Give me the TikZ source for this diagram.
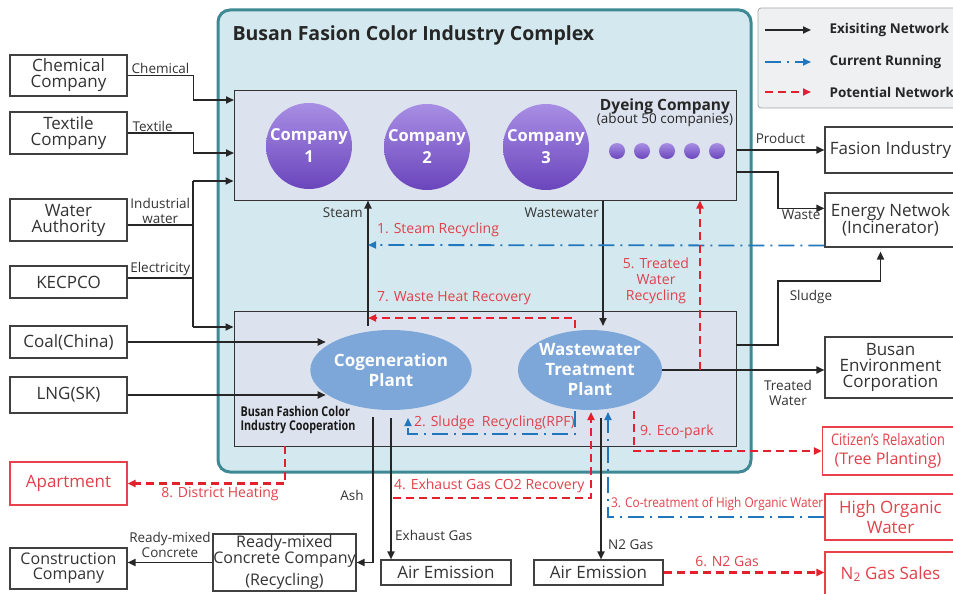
\documentclass[tikz,border=0pt]{standalone}
\usepackage{fontspec}
\usepackage{graphicx}
\setmainfont{Open Sans}
\usepackage{tikz}
\usetikzlibrary{arrows.meta,shapes.geometric}

\definecolor{cplxfill}{HTML}{D4E9EF}
\definecolor{cplxline}{HTML}{3F8994}
\definecolor{innerfill}{HTML}{DDE3EE}
\definecolor{plantfill}{HTML}{7DA6D9}
\definecolor{potred}{HTML}{E4202C}
\definecolor{lblred}{HTML}{E2404A}
\definecolor{curblue}{HTML}{2177BE}
\definecolor{legfill}{HTML}{EEF0F2}
\definecolor{compdark}{HTML}{6A45BC}
\definecolor{complight}{HTML}{A88EE4}

\newcommand{\fsz}[2]{\fontsize{#1}{#2}\selectfont}

\tikzset{
  arr/.style={-{Triangle[length=8pt,width=7pt]}},
  link/.style={line width=1.7pt, black!85},
  pot/.style={line width=2.2pt, potred, dash pattern=on 8pt off 5pt},
  cur/.style={line width=1.8pt, curblue, dash pattern=on 16pt off 6pt on 2pt off 6pt},
  box/.style={draw=black!75, line width=1.1pt, fill=white, minimum width=117pt, inner sep=0pt, align=center, text=black!80, font=\fsz{17}{16}},
  rbox/.style={box, draw=potred!85, text=lblred},
  rwide/.style={minimum width=131pt},
  inner/.style={draw=black!80, line width=1pt, fill=innerfill, inner sep=0pt},
  comp/.style={circle, minimum size=86pt, inner sep=0pt, top color=complight, bottom color=compdark, text=white, align=center, font=\bfseries\fsz{16.5}{16}},
  dot/.style={circle, minimum size=16pt, inner sep=0pt, top color=complight, bottom color=compdark},
  plant/.style={ellipse, minimum width=134pt, minimum height=80pt, inner sep=0pt, fill=plantfill, text=white, align=center, font=\bfseries\fsz{17}{20}},
  lbl/.style={font=\fsz{13.5}{15}, text=black!80, inner sep=1pt, align=center},
  rlbl/.style={lbl, font=\fsz{14}{16}, text=lblred},
  legtxt/.style={anchor=west, font=\bfseries\fsz{13.5}{14}, text=black!85}
}

\begin{document}
\begin{tikzpicture}[x=1pt,y=-1pt]
\useasboundingbox (0,0) rectangle (953,594);

\node[draw=cplxline, line width=3pt, fill=cplxfill, rounded corners=12pt, minimum width=533pt, minimum height=462pt, inner sep=0pt] (cplx) at (484.5,241) {};
\node[anchor=west, font=\bfseries\fsz{19.5}{20}, text=black!85] (title) at (229,35) {Busan Fasion Color Industry Complex};
\node[inner, minimum width=502pt, minimum height=110pt] (dye) at (485,145) {};
\node[inner, minimum width=502pt, minimum height=135pt] (coop) at (485,378.5) {};

% legend
\node[draw=black!35, fill=legfill, rounded corners=3pt, line width=0.8pt, minimum width=202pt, minimum height=100pt] (leg) at (859,58) {};
\coordinate (lg1) at (765,30);
\coordinate (lg2) at (765,62);
\coordinate (lg3) at (765,92);
\draw[link,arr] (lg1) -- ++(46,0);
\draw[cur,arr] (lg2) -- ++(46,0);
\draw[pot,arr] (lg3) -- ++(46,0);
\node[legtxt] (lt1) at (826,30) {Exisiting Network};
\node[legtxt] (lt2) at (826,62) {Current Running};
\node[legtxt] (lt3) at (826,92) {Potential Network};

% dyeing companies
\node[comp] (c1) at (309,146) {Company\\[6pt]1};
\node[comp] (c2) at (427,147) {Company\\[6pt]2};
\node[comp] (c3) at (546,147) {Company\\[6pt]3};
\foreach \i/\x in {1/617,2/642,3/667,4/692,5/717}
  \node[dot] (d\i) at (\x,151) {};
\node[align=center, text=black!85] (dyelbl) at (665,113) {{\bfseries\fsz{15.5}{16}Dyeing Company}\\[-2pt]{\fsz{13.5}{13}(about 50 companies)}};

% plants
\node[plant] (cogen) at (391,370) {Cogeneration\\Plant};
\node[plant] (wwtp) at (590,370) {Wastewater\\Treatment\\Plant};
\node[anchor=west, font=\bfseries\fsz{13.5}{14}, align=left, text=black!90] (cooplbl) at (237,420) {\scalebox{0.8}[1]{Busan Fashion Color}\\\scalebox{0.8}[1]{Industry Cooperation}};

% outside boxes
\node[box, minimum height=41pt] (chem) at (68.5,75.5) {Chemical\\Company};
\node[box, minimum height=42pt] (textile) at (68.5,133) {Textile\\Company};
\node[box, minimum height=42pt] (water) at (68.5,220) {Water\\Authority};
\node[box, minimum height=32pt] (kecpco) at (68.5,282) {KECPCO};
\node[box, minimum height=32pt] (coal) at (68.5,342) {Coal(China)};
\node[box, minimum height=36pt] (lng) at (68.5,395) {LNG(SK)};
\node[rbox, minimum height=43pt] (apart) at (68.5,483.5) {Apartment};
\node[box, minimum height=41pt, font=\fsz{16}{15}] (constr) at (68.5,568.5) {Construction\\Company};

\node[box, rwide, minimum height=46pt] (fashion) at (890.5,150) {Fasion Industry};
\node[box, rwide, minimum height=54pt] (energy) at (890.5,220) {Energy Netwok\\(Incinerator)};
\node[box, rwide, minimum height=61pt] (busenv) at (890.5,367.5) {Busan\\Environment\\Corporation};
\node[rbox, rwide, minimum height=48pt, font=\fsz{16}{19}] (citizen) at (888,451) {\scalebox{0.8}[1]{Citizen's Relaxation}\\(Tree Planting)};
\node[rbox, rwide, minimum height=46pt, font=\fsz{17}{20}] (highorg) at (890.5,517) {High Organic\\Water};
\node[rbox, rwide, minimum height=44pt] (n2sales) at (890.5,574) {N\textsubscript{2} Gas Sales};

\node[box, minimum width=143pt, minimum height=57pt, font=\fsz{16}{14}] (rmc) at (284.5,562.5) {Ready-mixed\\Concrete Company\\[5pt](Recycling)};
\node[box, minimum width=130pt, minimum height=25pt] (air1) at (446,572.5) {Air Emission};
\node[box, minimum width=129pt, minimum height=25pt] (air2) at (598.5,572.5) {Air Emission};

% inputs
\coordinate (bustop) at (193,181);
\coordinate (busbot) at (193,327);
\coordinate (inchem) at (234,100);
\coordinate (intex) at (234,153);
\draw[link,arr] (chem.east) -- node[lbl,above] (lchem) {Chemical} ++(66,0) |- (inchem);
\draw[link,arr] (textile.east) -- node[lbl,above,pos=0.38] (ltex) {Textile} ++(66,0) |- (intex);
\draw[link] ([yshift=-5pt]water.east) -- node[lbl,above] (lwat) {Industrial\\water} ([yshift=-5pt]water.east -| bustop);
\draw[link] ([yshift=4pt]kecpco.east) -- node[lbl,above] (lele) {Electricity} ([yshift=4pt]kecpco.east -| bustop);
\draw[link] (bustop) -- (busbot);
\draw[link,arr] (bustop) -- (bustop -| dye.west);
\draw[link,arr] (busbot) -- (busbot -| coop.west);
\draw[link,arr] (coal.east) -- (coal.east -| cogen.160);
\draw[link,arr] (lng.east) -- (lng.east -| cogen.200);

% outputs
\coordinate (wasteout) at (736,172);
\coordinate (sludout) at (736,345);
\draw[link,arr] (dye.east |- fashion.west) -- node[lbl,above=5pt] (lprod) {Product} (fashion.west);
\draw[link,arr] (wasteout) -- ++(42,0) |- node[lbl,below,pos=0.75] (lwaste) {Waste} (energy.170);
\draw[link,arr,shorten >=4pt] (sludout) -- ++(42,0) -- ++(0,-64) -| ([xshift=-10pt]energy.south);
\node[lbl] (lslud) at (811,297) {Sludge};
\draw[link,arr] (wwtp.east) -- (wwtp.east -| busenv.west);
\node[lbl] (ltw) at (788,393) {Treated\\Water};

% inside
\coordinate (stbot) at (368,326);
\coordinate (wwin) at (603,326);
\draw[link,arr] (stbot) -- (stbot |- dye.south);
\node[lbl,anchor=east] (lsteam) at (364,213) {Steam};
\draw[link,arr] (wwin |- dye.south) -- (wwin);
\node[lbl,anchor=east] (lww) at (600,213) {Wastewater};

\coordinate (stin1) at (368,245);
\draw[cur,arr] ([yshift=2pt]energy.south west) -- (stin1);
\node[rlbl,anchor=west] (l1) at (376,230) {1. Steam Recycling};

\coordinate (whout) at (575,328);
\coordinate (stin7) at (368,318);
\draw[pot,arr] (whout) |- (stin7);
\node[rlbl,anchor=west] (l7) at (376,298) {7. Waste Heat Recovery};

\coordinate (trw) at (700,370);
\draw[pot,arr] (trw) -- (trw |- dye.south);
\node[rlbl] (l5) at (656,281) {5. Treated\\Water\\Recycling};

\coordinate (slout) at (575,411);
\coordinate (slin) at (408,418);
\draw[cur,arr] (slout) -- ++(0,23) -| (slin);
\node[rlbl,anchor=west] (l2) at (413,423) {2. Sludge\ \ Recycling(RPF)};

\coordinate (ctin) at (608,412);
\draw[cur,arr] (highorg.west) -| (ctin);
\node[rlbl,anchor=west,font=\fsz{13.5}{14}] (l3) at (610,504) {\scalebox{0.875}[1]{3. Co-treatment of High Organic Water}};

\coordinate (co2out) at (393,498);
\coordinate (co2in) at (591,412);
\draw[pot,arr] (co2out) -| (co2in);
\node[rlbl,anchor=west] (l4) at (393,486) {4. Exhaust Gas\ CO2\ Recovery};

\coordinate (ecoout) at (634,411);
\draw[pot,arr] (ecoout) |- (citizen.west);
\node[rlbl,anchor=west] (l9) at (639,432) {9. Eco-park};

\coordinate (dhout) at (285,446);
\draw[pot,arr] (dhout) |- (apart.east);
\node[rlbl] (l8) at (220,494) {8. District Heating};

\draw[pot,arr] (air2.east) -- (air2.east -| n2sales.west);
\node[rlbl] (l6) at (727,562) {6. N2 Gas};

% bottom
\coordinate (ashout) at (373,417);
\coordinate (exout) at (391,418);
\coordinate (n2out) at (601,418);
\draw[link,arr] (ashout) |- (rmc.east);
\node[lbl] (lash) at (352,495) {Ash};
\draw[link,arr] (exout) -- (exout |- air1.north);
\node[lbl,anchor=west] (lex) at (394,535) {Exhaust Gas};
\draw[link,arr] (n2out) -- (n2out |- air2.north);
\node[lbl,anchor=west] (ln2) at (607,545) {N2 Gas};
\draw[link,arr] (rmc.west) -- (rmc.west -| constr.east);
\node[lbl] (lrmc) at (170,545) {Ready-mixed\\Concrete};
\end{tikzpicture}
\end{document}
